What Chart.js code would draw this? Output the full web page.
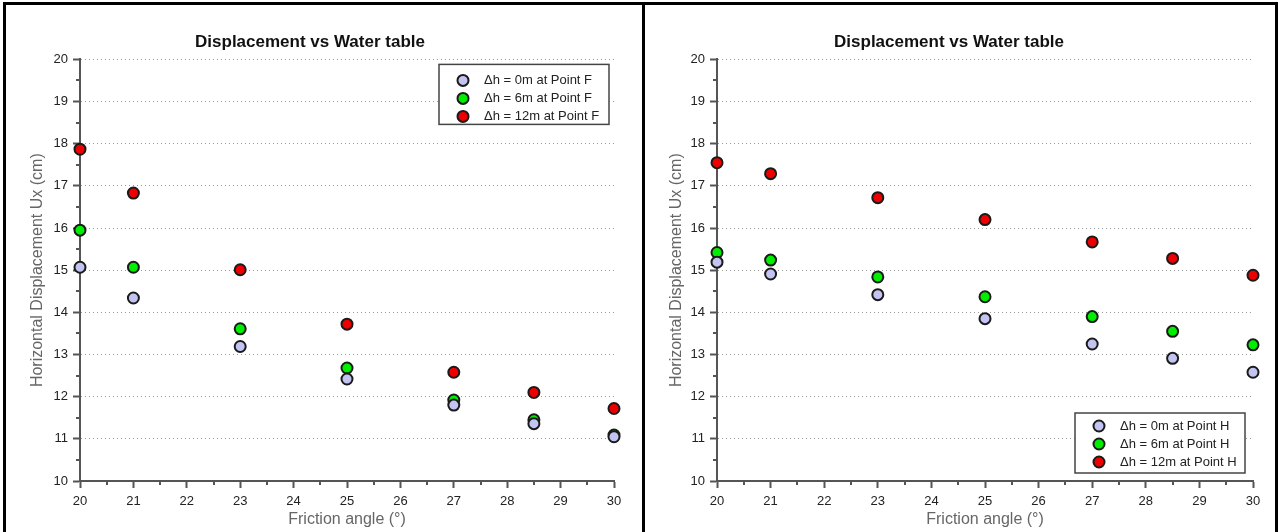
<!DOCTYPE html>
<html>
<head>
<meta charset="utf-8">
<title>Displacement vs Water table</title>
<script src="https://cdn.jsdelivr.net/npm/chart.js@4.4.1/dist/chart.umd.min.js"></script>
<style>
  body { margin: 0; background: #fff; }
  .panel { position: absolute; top: 2px; border: 3px solid #000; background: #fff; }
  #panelF { left: 3px; width: 636px; height: 527px; }
  #panelH { left: 642px; width: 630px; height: 527px; }
  canvas { display: block; }
</style>
</head>
<body>
<div class="panel" id="panelF"><canvas id="chartF" width="636" height="527"></canvas></div>
<div class="panel" id="panelH"><canvas id="chartH" width="630" height="527"></canvas></div>
<script>
// friction angles (deg) where the model was run
const frictionAngle = [20, 21, 23, 25, 27, 28.5, 30];

// horizontal displacement Ux (cm) at point F
const pointF_0m  = [15.07, 14.34, 13.19, 12.42, 11.80, 11.36, 11.05];
const pointF_6m  = [15.95, 15.07, 13.61, 12.68, 11.92, 11.45, 11.09];
const pointF_12m = [17.87, 16.83, 15.01, 13.72, 12.58, 12.10, 11.72];

// horizontal displacement Ux (cm) at point H
const pointH_0m  = [15.19, 14.91, 14.42, 13.85, 13.25, 12.91, 12.58];
const pointH_6m  = [15.42, 15.24, 14.84, 14.37, 13.90, 13.55, 13.23];
const pointH_12m = [17.55, 17.29, 16.72, 16.20, 15.67, 15.28, 14.88];

const xTicks = [20, 21, 22, 23, 24, 25, 26, 27, 28, 29, 30];
const yTicks = [10, 11, 12, 13, 14, 15, 16, 17, 18, 19, 20];

const seriesColors = ['#c4c4f2', '#00ee00', '#ee0000'];
const FONT = '"Liberation Sans", Arial, Helvetica, sans-serif';

function toPoints(values) {
    return frictionAngle.map((a, i) => ({ x: a, y: values[i] }));
}

// small ticks half way between the labelled ones
const minorTicks = {
    id: 'minorTicks',
    beforeDatasetsDraw(chart) {
        const { ctx, chartArea, scales: { x, y } } = chart;
        ctx.save();
        ctx.strokeStyle = '#555';
        ctx.lineWidth = 2;
        ctx.beginPath();
        xTicks.slice(1).forEach(t => {
            const px = Math.round(x.getPixelForValue(t - 0.5));
            ctx.moveTo(px, chartArea.bottom);
            ctx.lineTo(px, chartArea.bottom + 4);
        });
        yTicks.slice(1).forEach(t => {
            const py = Math.round(y.getPixelForValue(t - 0.5));
            ctx.moveTo(chartArea.left, py);
            ctx.lineTo(chartArea.left - 4, py);
        });
        ctx.stroke();
        ctx.restore();
    }
};

// framed legend drawn inside the plot area
const boxLegend = {
    id: 'boxLegend',
    afterDatasetsDraw(chart, args, opts) {
        const { ctx, chartArea } = chart;
        const w = opts.width, h = opts.height;
        const left = chartArea.right - opts.offset - w;
        const top = opts.corner === 'top'
            ? chartArea.top + opts.inset
            : chartArea.bottom - opts.inset - h;
        ctx.save();
        ctx.fillStyle = '#fff';
        ctx.fillRect(left, top, w, h);
        ctx.strokeStyle = '#444';
        ctx.lineWidth = 1.5;
        ctx.strokeRect(left, top, w, h);
        ctx.font = '13px ' + FONT;
        ctx.textBaseline = 'middle';
        chart.data.datasets.forEach((ds, i) => {
            const cy = top + opts.firstRow + i * opts.rowHeight;
            ctx.beginPath();
            ctx.arc(left + 24, cy, 5.5, 0, Math.PI * 2);
            ctx.fillStyle = ds.backgroundColor;
            ctx.fill();
            ctx.lineWidth = 2;
            ctx.strokeStyle = '#1a1a1a';
            ctx.stroke();
            ctx.fillStyle = '#222';
            ctx.fillText(ds.label, left + 45, cy);
        });
        ctx.restore();
    }
};

function makeChart(canvasId, point, series, yWidth, padRight, legendOpts) {
    const labels = ['\u0394h = 0m at Point ' + point, '\u0394h = 6m at Point ' + point, '\u0394h = 12m at Point ' + point];
    return new Chart(document.getElementById(canvasId), {
        type: 'scatter',
        data: {
            datasets: series.map((vals, i) => ({
                label: labels[i],
                data: toPoints(vals),
                backgroundColor: seriesColors[i],
                borderColor: '#1a1a1a',
                borderWidth: 2,
                pointRadius: 5.5,
                pointHoverRadius: 5.5,
                clip: false
            }))
        },
        options: {
            responsive: false,
            animation: false,
            layout: { padding: { left: 0, right: padRight, top: 0, bottom: 0 } },
            plugins: {
                legend: { display: false },
                tooltip: { enabled: false },
                title: {
                    display: true,
                    text: 'Displacement vs Water table',
                    color: '#111',
                    font: { family: FONT, size: 17, weight: 'bold' },
                    padding: { top: 27, bottom: 7 }
                },
                boxLegend: legendOpts
            },
            scales: {
                x: {
                    type: 'linear',
                    min: xTicks[0],
                    max: xTicks[xTicks.length - 1],
                    afterBuildTicks: s => { s.ticks = xTicks.map(v => ({ value: v })); },
                    afterFit: s => { s.height = 51; },
                    ticks: { color: '#222', font: { family: FONT, size: 13 }, padding: 6, maxRotation: 0 },
                    grid: { drawOnChartArea: false, drawTicks: true, tickLength: 7, tickColor: '#555', tickWidth: 2 },
                    border: { color: '#555', width: 2 },
                    title: {
                        display: true,
                        text: 'Friction angle (\u00b0)',
                        color: '#666',
                        font: { family: FONT, size: 16 },
                        padding: { top: 0, bottom: 3 }
                    }
                },
                y: {
                    type: 'linear',
                    min: yTicks[0],
                    max: yTicks[yTicks.length - 1],
                    afterBuildTicks: s => { s.ticks = yTicks.map(v => ({ value: v })); },
                    afterFit: s => { s.width = yWidth; },
                    ticks: { color: '#222', font: { family: FONT, size: 13 }, padding: 5 },
                    grid: { color: '#9a9a9a', lineWidth: 1, tickLength: 7, tickColor: '#555', tickWidth: 2 },
                    border: { color: '#555', width: 2, dash: [1, 3] },
                    title: {
                        display: true,
                        text: 'Horizontal Displacement Ux (cm)',
                        color: '#666',
                        font: { family: FONT, size: 16 },
                        padding: { top: 22, bottom: 0 }
                    }
                }
            }
        },
        plugins: [minorTicks, boxLegend]
    });
}

makeChart('chartF', 'F', [pointF_0m, pointF_6m, pointF_12m], 74, 28,
    { corner: 'top', width: 170, height: 60, offset: 5, inset: 5, firstRow: 16, rowHeight: 18 });
makeChart('chartH', 'H', [pointH_0m, pointH_6m, pointH_12m], 72, 22,
    { corner: 'bottom', width: 170, height: 60, offset: 8, inset: 8, firstRow: 13, rowHeight: 18 });
</script>
</body>
</html>
